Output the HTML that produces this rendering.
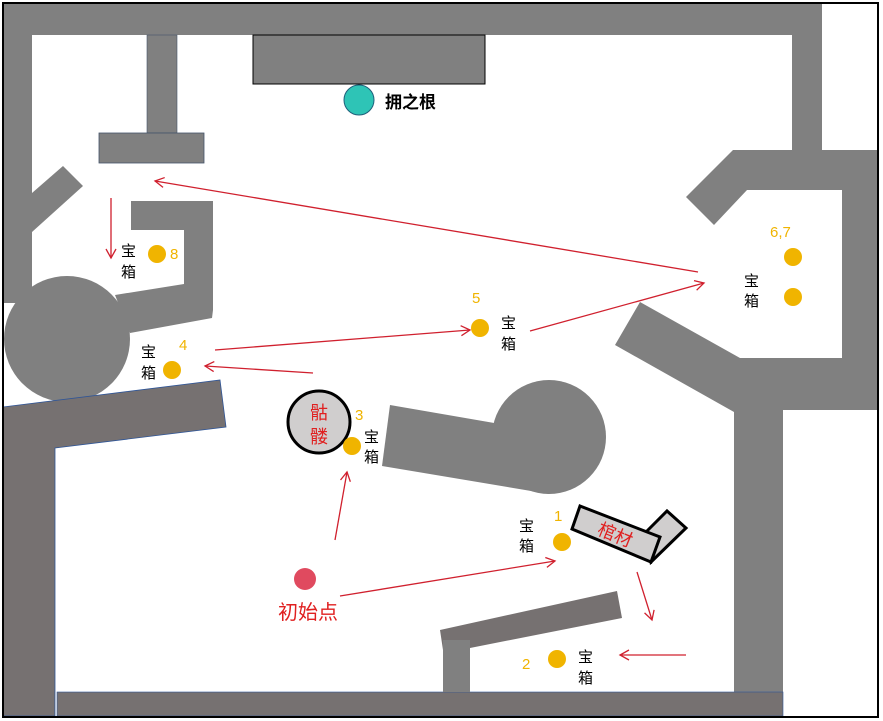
<!DOCTYPE html>
<html><head><meta charset="utf-8"><style>
html,body{margin:0;padding:0;background:#fff}
svg{display:block}
text{font-family:"Liberation Sans","Noto Sans CJK SC",sans-serif}
</style></head><body>
<svg width="883" height="721" viewBox="0 0 883 721" xmlns="http://www.w3.org/2000/svg">
<defs>
<marker id="a" markerWidth="12" markerHeight="12" refX="10" refY="6" orient="auto" markerUnits="userSpaceOnUse">
<path d="M1,1 L10,6 L1,11" fill="none" stroke="#d0202e" stroke-width="1.3"/>
</marker>
</defs>
<rect x="0" y="0" width="883" height="721" fill="#fff"/>
<g fill="#808080">
<rect x="3" y="3" width="819" height="32"/>
<rect x="3" y="3" width="29" height="300"/>
<rect x="792" y="3" width="30" height="150"/>
<polygon points="733,150 877,150 877,410 783,410 783,692 734,692 734,412 615,345 640,302 740,358 842,358 842,190 747,190 714,225 686,197"/>
<rect x="147" y="35" width="30" height="98" stroke="#44546a" stroke-width="0.6"/>
<rect x="99" y="133" width="105" height="30" stroke="#44546a" stroke-width="0.8"/>
<rect x="253" y="35" width="232" height="49" stroke="#000" stroke-width="1"/>
<polygon points="32,193 63,166 83,186 32,232"/>
<polygon points="131,201 213,201 213,310 212,318 130,333 115,295 184,284 184,230 131,230"/>
<circle cx="67" cy="339" r="63"/>
<polygon points="390,405 500,424 549,494 382,466"/>
<circle cx="549" cy="437" r="57"/>
</g>
<g fill="#767171">
<polygon points="3,407 220,380 226,427 55,448 55,716 3,716" stroke="#2f5597" stroke-width="0.8"/>
<rect x="57" y="692" width="726" height="24" stroke="#2f5597" stroke-width="0.6"/>
<polygon points="440,630 617,591 622,618 470,648 470,692 443,692 443,650"/>
</g>
<rect x="443" y="640" width="27" height="52" fill="#808080"/>
<rect x="3" y="3" width="875" height="714" fill="none" stroke="#000" stroke-width="2"/>
<circle cx="359" cy="100" r="15" fill="#2ec4b6" stroke="#1f5f7a" stroke-width="1"/>
<text x="385" y="108" font-size="17" font-weight="bold" fill="#000">拥之根</text>
<ellipse cx="319" cy="422" rx="31" ry="31" fill="#d0cece" stroke="#000" stroke-width="3"/>
<text x="319" y="419" font-size="18" fill="#e02020" text-anchor="middle">骷</text>
<text x="319" y="443" font-size="18" fill="#e02020" text-anchor="middle">髅</text>
<polygon points="646,532 667,511 686,528 651,562" fill="#d0cece" stroke="#000" stroke-width="3"/>
<polygon points="580,506 660,537 651,562 572,529" fill="#d0cece" stroke="#000" stroke-width="3"/>
<text x="615" y="541" font-size="18" fill="#e02020" text-anchor="middle" transform="rotate(22 615 535)">棺材</text>
<g fill="#f0b400">
<circle cx="157" cy="254" r="9"/><circle cx="172" cy="370" r="9"/>
<circle cx="480" cy="328" r="9"/><circle cx="793" cy="257" r="9"/>
<circle cx="793" cy="297" r="9"/><circle cx="352" cy="446" r="9"/>
<circle cx="562" cy="542" r="9"/><circle cx="557" cy="659" r="9"/>
</g>
<g fill="#f0b400" font-size="15">
<text x="170" y="259">8</text><text x="179" y="350">4</text>
<text x="472" y="303">5</text><text x="770" y="237">6,7</text>
<text x="355" y="420">3</text><text x="554" y="521">1</text>
<text x="522" y="669">2</text>
</g>
<g fill="#000" font-size="15">
<text x="121" y="256">宝</text><text x="121" y="277">箱</text>
<text x="141" y="357">宝</text><text x="141" y="378">箱</text>
<text x="501" y="328">宝</text><text x="501" y="349">箱</text>
<text x="744" y="286">宝</text><text x="744" y="306">箱</text>
<text x="364" y="442">宝</text><text x="364" y="462">箱</text>
<text x="519" y="531">宝</text><text x="519" y="551">箱</text>
<text x="578" y="662">宝</text><text x="578" y="683">箱</text>
</g>
<circle cx="305" cy="579" r="11" fill="#e04a5f"/>
<text x="278" y="619" font-size="20" fill="#e02020">初始点</text>
<g stroke="#d0202e" stroke-width="1.3" fill="none" marker-end="url(#a)">
<line x1="335" y1="540" x2="347" y2="472"/>
<line x1="340" y1="596" x2="555" y2="561"/>
<line x1="637" y1="572" x2="652" y2="620"/>
<line x1="686" y1="655" x2="620" y2="655"/>
<line x1="313" y1="373" x2="205" y2="366"/>
<line x1="215" y1="350" x2="470" y2="330"/>
<line x1="530" y1="331" x2="704" y2="283"/>
<line x1="698" y1="272" x2="155" y2="181"/>
<line x1="111" y1="198" x2="111" y2="258"/>
</g>
</svg>
</body></html>
